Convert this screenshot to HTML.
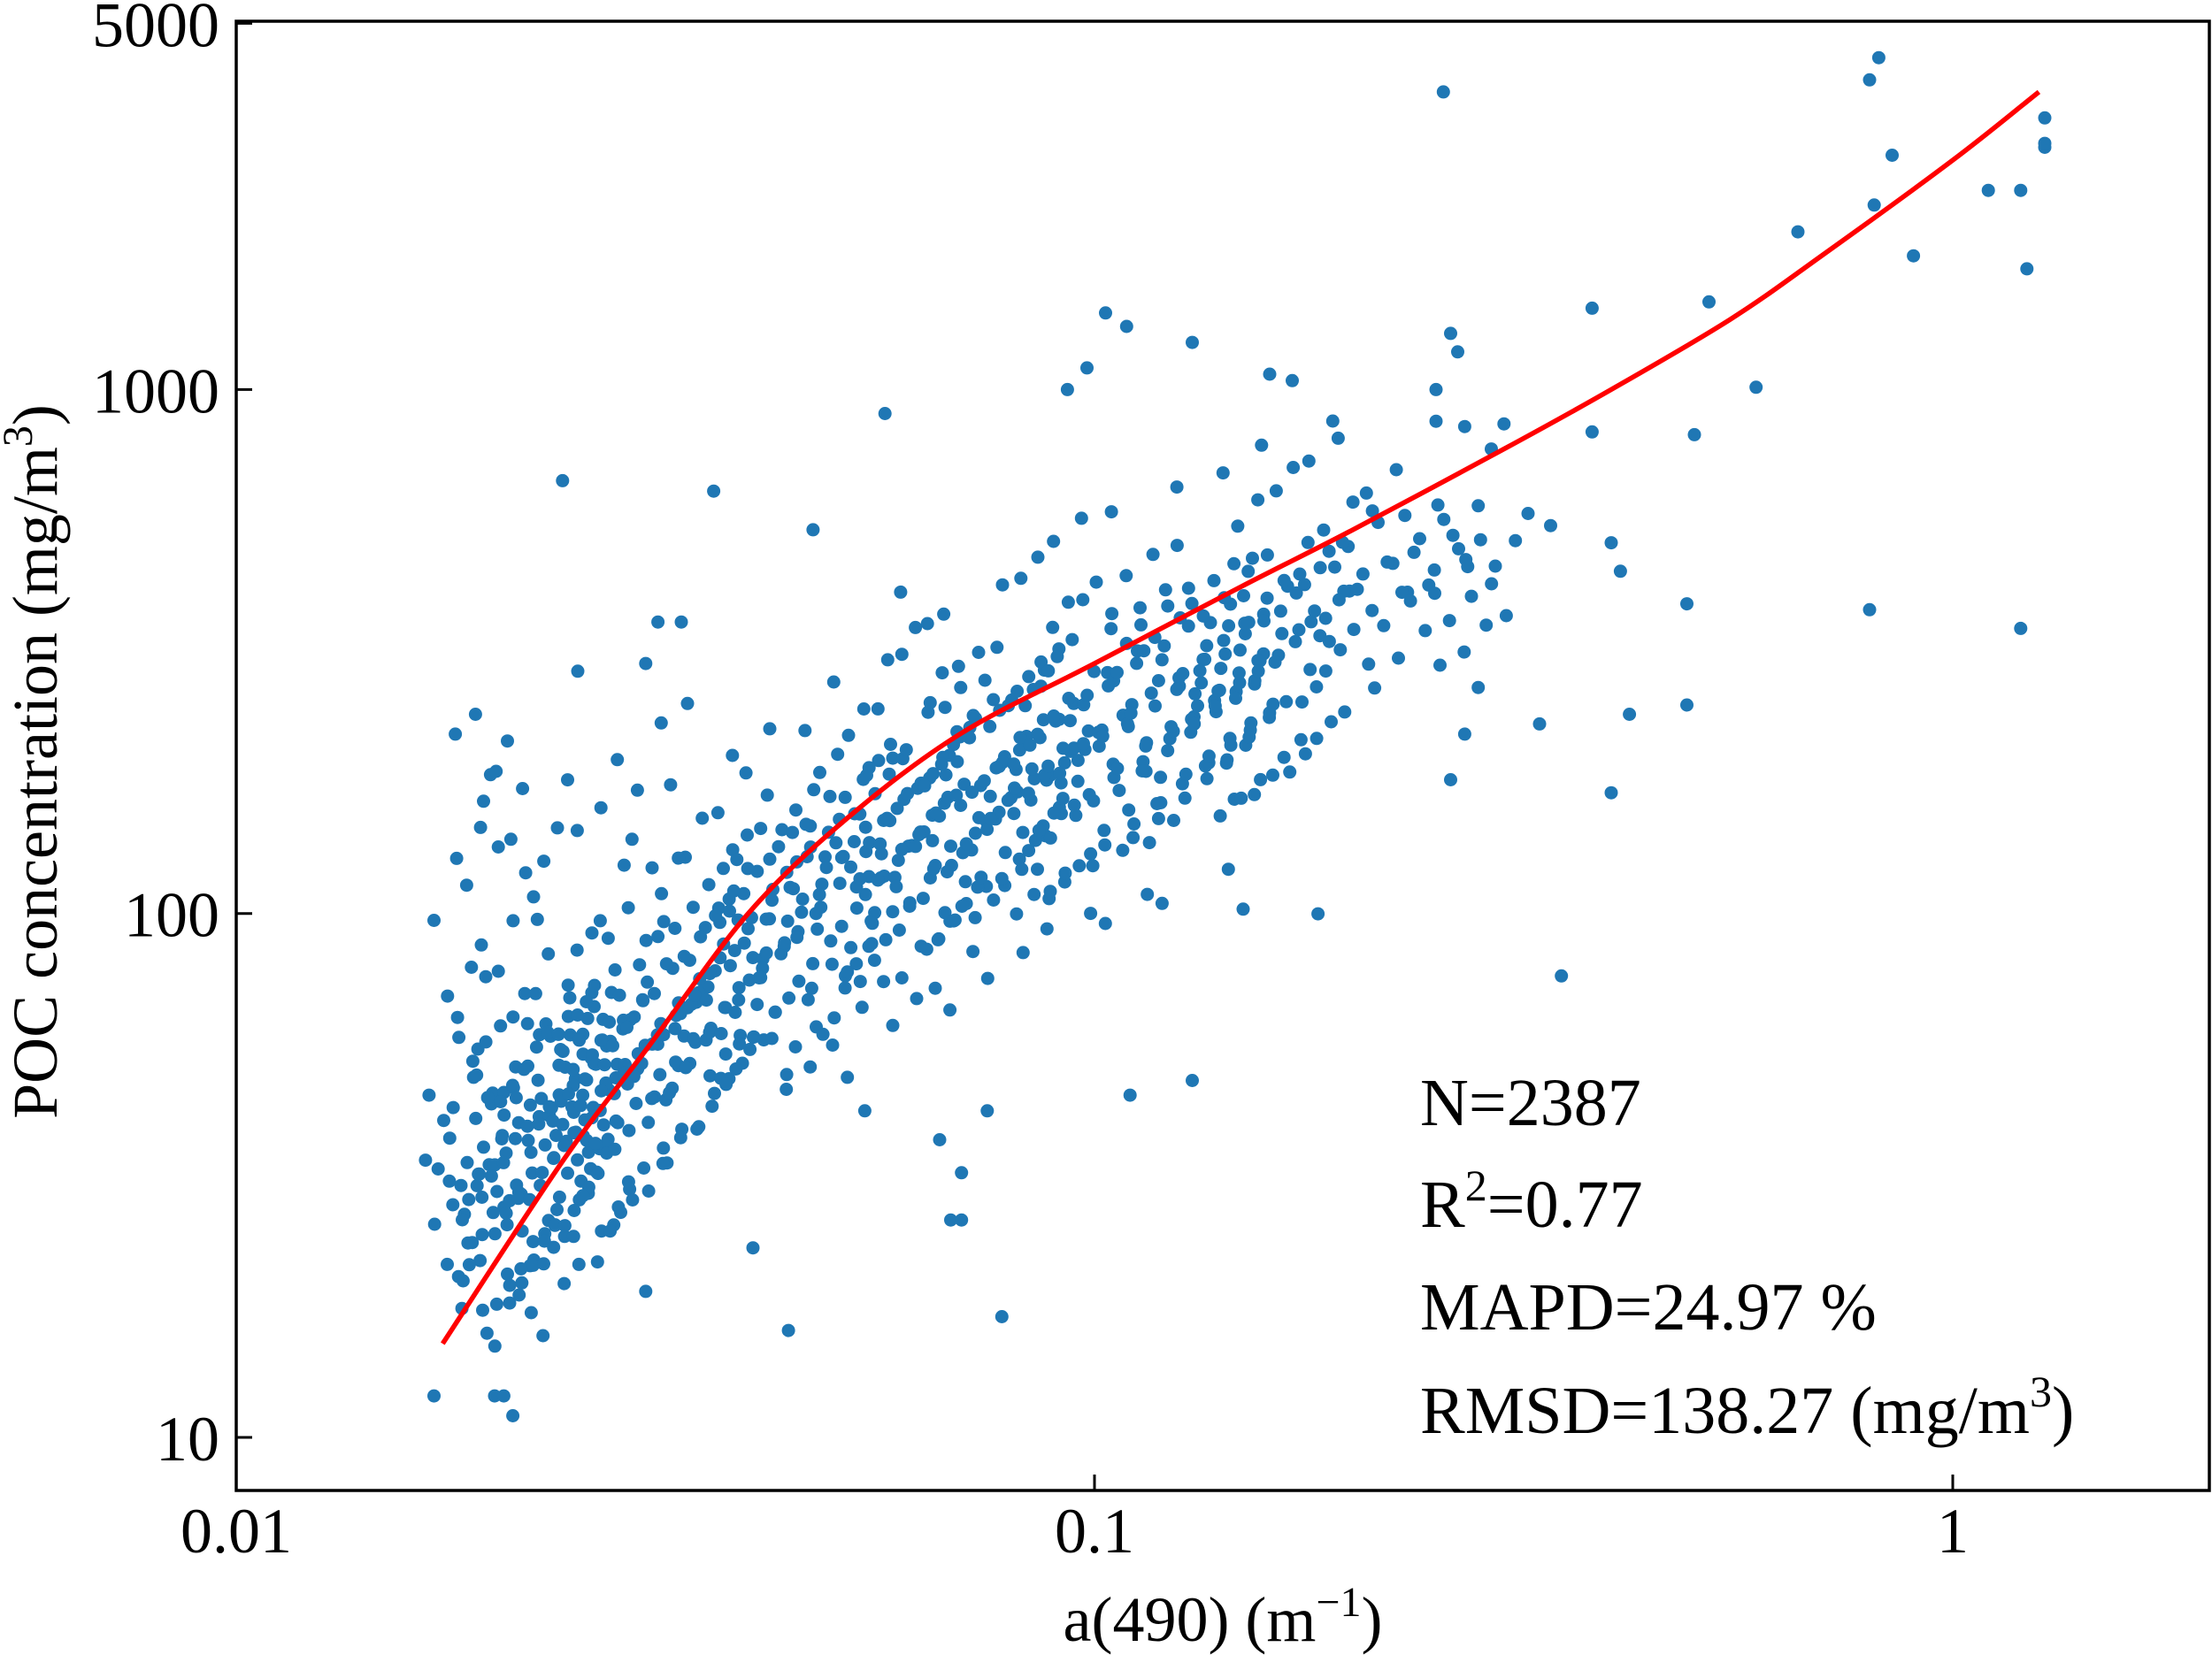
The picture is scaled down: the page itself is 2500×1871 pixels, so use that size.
<!DOCTYPE html>
<html><head><meta charset="utf-8">
<style>
html,body{margin:0;padding:0;background:#fff;}
svg{display:block;font-family:"Liberation Serif","DejaVu Serif",serif;}
</style></head>
<body>
<svg id="chart" width="2500" height="1871" viewBox="0 0 2500 1871" xmlns="http://www.w3.org/2000/svg">
<rect width="2500" height="1871" fill="#fff"/>
<g id="points"></g>
<g id="fit"></g>
<rect x="267" y="24" width="2230" height="1661" fill="none" stroke="#000" stroke-width="3.5"/>
<g id="ticks"></g>
<text x="1382" y="1855" font-size="72" text-anchor="middle">a(490) (m<tspan dy="-28" font-size="48">−1</tspan><tspan dy="28">)</tspan></text>
<text transform="translate(64,861) rotate(-90)" font-size="72" text-anchor="middle">POC concentration (mg/m<tspan dy="-28" font-size="48">3</tspan><tspan dy="28">)</tspan></text>
<g font-size="76">
<text x="1605" y="1272">N=2387</text>
<text x="1605" y="1387">R<tspan dy="-30" font-size="50">2</tspan><tspan dy="30">=0.77</tspan></text>
<text x="1605" y="1503">MAPD=24.97 %</text>
<text x="1605" y="1620">RMSD=138.27 (mg/m<tspan dy="-30" font-size="50">3</tspan><tspan dy="30">)</tspan></text>
</g>
</svg>
<script>
const xTicks = [0.01, 0.1, 1];
const xTickLabels = ["0.01", "0.1", "1"];
const yTicks = [10, 100, 1000, 5000];
const yTickLabels = ["10", "100", "1000", "5000"];

const fitX = [0.0174, 0.0241, 0.0303, 0.0395, 0.0515, 0.0697, 0.1, 0.148, 0.2, 0.3, 0.4, 0.55, 0.7, 1.0, 1.26];
const fitY = [15.1, 34, 56, 100, 152, 220, 300, 420, 540, 770, 1000, 1360, 1790, 2740, 3700];

const outlierX = [0.017,0.017,0.02,0.021,0.0205,0.024,0.036,0.047,0.057,0.093,0.098,0.103,0.109,0.13,0.16,0.17,0.25,0.255,0.26,0.265,0.38,0.52,0.59,0.66,0.8,0.82,0.81,0.85,0.9,1.1,1.2,1.22,1.28,1.28,1.28,1.2,0.8,0.49,0.49,0.42,0.4,0.41,0.4,0.34,0.33,0.35,0.28,0.26,0.27,0.28,0.13,0.11,0.078,0.068,0.07,0.07,0.066,0.075,0.054,0.044,0.04,0.03,0.018,0.019,0.025,0.03,0.031,0.033,0.25,0.27,0.29,0.3,0.5,0.38,0.32];
const outlierY = [97,12,12,11,12,670,640,540,900,1000,1100,1400,1320,1230,1070,1040,1000,3700,1280,1180,1430,1470,1010,2000,3900,4300,2250,2800,1800,2400,2400,1700,3300,2900,2950,350,380,390,250,240,170,450,510,550,230,76,600,180,220,270,48,45,17,26,26,32,37,42,42,16,23,19,220,240,290,300,360,360,870,850,770,860,820,830,580];

const colX = [0.0175,0.0185,0.019,0.020,0.021,0.022,0.023,0.024,0.025,0.026,0.027,0.028,0.03,0.032,0.034,0.036,0.038,0.04,0.043,0.045,0.046,0.049,0.05,0.052,0.055,0.058,0.06,0.062,0.065,0.066,0.07,0.075,0.08,0.085,0.09,0.095,0.1,0.11,0.12,0.13,0.14,0.15,0.16,0.17,0.18,0.19,0.2,0.22,0.24,0.26,0.28,0.3];
const colY = [
[35,30,25,20,40,45,28,33,18,22],
[32,27,38,50,60,17,23,42,30,26,70,80,130,150],
[35,28,45,55,20,16,24,65,90,110,180,40,30],
[30,25,36,42,48,60,75,18,15,22,28,34,100,130,160,210],
[28,33,40,46,52,65,80,24,20,17,30,37,120,140,190],
[30,35,42,50,58,70,26,22,19,16,38,45,95,170],
[32,38,45,52,60,68,28,24,21,34,41,55,85,110,150],
[30,36,42,48,55,62,70,26,22,19,40,46,58,125,180],
[33,39,45,50,57,65,28,24,35,42,52,60,75,95,140],
[35,40,46,52,58,64,30,25,21,44,55,70,85,160],
[38,44,50,56,62,70,32,27,48,54,80,100,120],
[40,46,52,58,65,72,35,30,25,50,60,90,140,200],
[42,48,55,62,70,80,36,30,50,58,66,100,120,170,230],
[45,52,60,68,76,88,38,33,56,64,110,130,180],
[48,56,64,72,82,95,40,60,70,100,125,150,250],
[55,62,70,80,92,105,45,75,88,115,135,160],
[58,66,75,86,98,112,50,80,95,120,140,200],
[60,70,80,92,105,120,52,85,100,130,150,180,220],
[65,75,88,100,115,130,56,95,110,125,145,170],
[45,50,55],
[70,82,95,110,125,140,60,100,120,135,160,190,230],
[75,88,100,115,130,150,65,105,125,140,170,200],
[50,58],
[80,95,110,125,140,160,70,115,135,150,180,220,280],
[85,100,115,130,150,170,75,120,140,160,190,240,300],
[90,105,120,140,160,180,80,125,150,170,200,250,320],
[60,68,75],
[95,110,130,150,170,195,85,135,160,180,210,260,340,400],
[65,72],
[100,120,140,160,180,210,90,145,170,190,230,280,350],
[105,125,145,165,190,220,95,150,175,200,240,300,380],
[110,130,150,175,200,230,100,160,185,210,250,310,420,75,85],
[115,135,160,185,210,245,105,170,195,220,260,330,450],
[120,140,165,190,220,255,110,175,200,230,280,350,480,85,95],
[125,150,175,200,230,270,115,185,210,240,300,380,500],
[130,155,180,210,240,280,120,190,220,250,320,400],
[140,165,190,220,250,290,125,200,230,270,340,420,560,95,100],
[150,175,200,235,270,310,130,210,250,290,360,450,600],
[160,185,215,250,285,330,140,230,270,310,380,480,650,105,110],
[170,200,230,265,300,350,150,250,290,330,400,520],
[180,210,245,280,320,370,160,260,300,350,430,550,700],
[190,225,260,300,340,390,170,280,320,370,450,600,100,120],
[200,240,280,320,360,410,180,300,340,400,480,650,800],
[210,250,290,330,380,430,190,310,360,420,500,700],
[220,260,300,350,400,450,200,330,380,450,550,750,900,97],
[230,270,320,370,420,470,350,400,480,600,800],
[250,290,340,390,440,500,380,420,520,650],
[270,310,360,420,480,540,400,460,580,700],
[290,340,390,450,520,580,430,500,620],
[320,370,420,480,550,450,520],
[350,400,460,520,480],
[380,440,500]
];

const denseX = [0.0195,0.0205,0.0215,0.0225,0.0235,0.0245,0.0255,0.0265,0.0275,0.029,0.031,0.033,0.035,0.037,0.039,0.042,0.047,0.053,0.057,0.064,0.068,0.072,0.078,0.083,0.088,0.093,0.105,0.115,0.125,0.135,0.145,0.155];
const denseY = [
[22,26,31,37,44,52,18,29,34],
[21,27,32,38,45,55,19,24,29,41],
[23,28,33,39,47,56,20,26,36,43],
[24,29,35,41,49,58,21,27,32,62],
[25,30,36,43,51,60,22,33,39,47],
[26,31,37,44,53,63,23,34,40,49],
[27,32,38,46,55,66,24,36,42,51],
[28,34,40,48,57,68,25,37,44,53],
[30,36,43,51,60,71,27,39,47,56],
[32,38,45,54,63,75,29,41,50,59],
[34,41,48,57,67,79,44,52,62,90],
[37,44,52,61,72,85,47,56,66,95],
[40,47,56,66,77,90,51,60,71,105],
[43,51,60,70,82,96,55,65,76,110],
[46,54,64,75,88,102,59,70,81,118],
[50,59,69,81,95,110,64,75,88,128],
[58,68,80,94,108,125,74,87,100,145,165],
[68,80,94,110,126,145,86,101,118,170,195],
[74,87,102,118,136,157,93,110,128,182,210],
[84,98,115,133,153,176,106,124,145,205,235],
[90,105,123,142,163,188,113,133,155,218,250],
[95,111,130,150,172,198,120,140,162,230,265],
[102,120,140,162,186,214,130,152,175,248,285],
[108,127,148,172,197,226,138,160,185,262,300],
[114,134,156,181,208,238,145,168,195,275,320],
[120,141,164,190,218,250,152,176,205,290,335],
[132,155,180,208,240,275,167,194,225,318,365],
[142,166,193,223,257,295,180,208,242,340,390],
[150,176,205,237,272,312,190,220,256,360,410],
[158,185,216,250,287,330,200,232,270,378,430],
[166,195,227,263,302,346,210,244,284,398,450],
[175,205,238,276,318,364,220,256,298,418,470]
];

const NS = "http://www.w3.org/2000/svg";
const X0 = 267, XDEC = 970, Y10 = 1625, YDEC = 592.3;
function sx(v){ return X0 + (Math.log10(v) + 2) * XDEC; }
function sy(v){ return Y10 - (Math.log10(v) - 1) * YDEC; }

const pts = document.getElementById('points');
function dot(x, y){
  const c = document.createElementNS(NS, 'circle');
  c.setAttribute('cx', sx(x).toFixed(1));
  c.setAttribute('cy', sy(y).toFixed(1));
  c.setAttribute('r', '7.5');
  c.setAttribute('fill', '#1f77b4');
  
  
  pts.appendChild(c);
}
function drawCols(xs, ys, seed){
  xs.forEach(function(x, i){
    ys[i].forEach(function(y, j){
      const f = ((j + i * 3 + seed) * 0.6180339) % 1;
      const g = ((j * 7 + i + seed) * 0.4142136) % 1;
      const jx = Math.pow(10, (f - 0.5) * 0.045);
      const jy = Math.pow(10, (g - 0.5) * 0.03);
      dot(x * jx, y * jy);
    });
  });
}
drawCols(colX, colY, 0);
drawCols(denseX, denseY, 5);
outlierX.forEach(function(x, i){ dot(x, outlierY[i]); });

const fit = document.getElementById('fit');
const P = fitX.map(function(x, i){ return [sx(x), sy(fitY[i])]; });
let d = 'M' + P[0][0].toFixed(1) + ' ' + P[0][1].toFixed(1);
for (let i = 0; i < P.length - 1; i++) {
  const p0 = P[Math.max(0, i - 1)], p1 = P[i], p2 = P[i + 1], p3 = P[Math.min(P.length - 1, i + 2)];
  const c1 = [p1[0] + (p2[0] - p0[0]) / 6, p1[1] + (p2[1] - p0[1]) / 6];
  const c2 = [p2[0] - (p3[0] - p1[0]) / 6, p2[1] - (p3[1] - p1[1]) / 6];
  d += 'C' + c1[0].toFixed(1) + ' ' + c1[1].toFixed(1) + ',' + c2[0].toFixed(1) + ' ' + c2[1].toFixed(1) + ',' + p2[0].toFixed(1) + ' ' + p2[1].toFixed(1);
}
const path = document.createElementNS(NS, 'path');
path.setAttribute('d', d);
path.setAttribute('fill', 'none');
path.setAttribute('stroke', '#ff0000');
path.setAttribute('stroke-width', '5.5');
path.setAttribute('stroke-linejoin', 'round');


fit.appendChild(path);

const tk = document.getElementById('ticks');
xTicks.forEach(function(v, i){
  const x = sx(v);
  const l = document.createElementNS(NS, 'line');
  l.setAttribute('x1', x); l.setAttribute('x2', x);
  l.setAttribute('y1', 1685); l.setAttribute('y2', 1667);
  l.setAttribute('stroke', '#000'); l.setAttribute('stroke-width', '3');
  
  
  tk.appendChild(l);
  const t = document.createElementNS(NS, 'text');
  t.setAttribute('x', x); t.setAttribute('y', 1755);
  t.setAttribute('font-size', '72'); t.setAttribute('text-anchor', 'middle');
  t.textContent = xTickLabels[i];
  
  
  tk.appendChild(t);
});
yTicks.forEach(function(v, i){
  const y = sy(v);
  const l = document.createElementNS(NS, 'line');
  l.setAttribute('x1', 267); l.setAttribute('x2', 285);
  l.setAttribute('y1', y); l.setAttribute('y2', y);
  l.setAttribute('stroke', '#000'); l.setAttribute('stroke-width', '3');
  
  
  tk.appendChild(l);
  const t = document.createElementNS(NS, 'text');
  t.setAttribute('x', 248); t.setAttribute('y', y + 26);
  t.setAttribute('font-size', '72'); t.setAttribute('text-anchor', 'end');
  t.textContent = yTickLabels[i];
  
  
  tk.appendChild(t);
});
</script>
</body></html>
